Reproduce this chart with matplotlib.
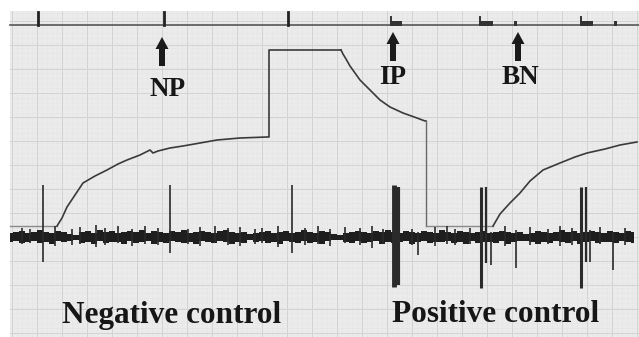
import matplotlib
matplotlib.use("Agg")
import matplotlib.pyplot as plt
import numpy as np

# ---------------- data (pixel units) ----------------
# integrator trace, negative control
neg_x = [10, 57, 62, 67, 75, 83, 95, 107, 118, 127, 140, 150, 153, 158, 170, 183, 200, 217, 240, 267, 269, 269, 341]
neg_y = [226, 226, 218, 207, 195, 183, 176, 170, 164, 160, 155, 150, 153, 151, 148, 146, 143, 140, 138, 137, 137, 50, 50]
# integrator trace, positive control (decay, reset, new rise)
pos_x = [341, 343, 346, 350, 355, 360, 365, 370, 375, 380, 390, 403, 417, 425, 426, 426, 493, 500, 510, 520, 530, 543, 560, 575, 587, 605, 620, 637]
pos_y = [50, 54, 59, 66, 73, 80, 85, 90, 95, 100, 107, 113, 118, 121, 121, 226, 226, 214, 203, 193, 181, 170, 163, 157, 153, 149, 145, 142]
RESET = 14  # index of reset in pos arrays

# EMG band envelope, sampled every 6 px from x=10
band_up = [4, 5, 6, 4, 5, 7, 5, 4, 6, 5, 3, 2, 5, 6, 4, 7, 5, 6, 4, 5,
           6, 5, 7, 4, 6, 5, 4, 6, 5, 7, 4, 5, 6, 5, 4, 6, 7, 5, 4, 5,
           3, 4, 5, 6, 4, 5, 6, 4, 5, 7, 5, 4, 6, 5, 3, 2, 4, 5, 6, 5,
           4, 6, 5, 7, 5, 4, 6, 5, 4, 6, 5, 4, 7, 5, 4, 6, 5, 4, 5, 6,
           4, 5, 6, 5, 4, 5, 3, 4, 6, 5, 4, 5, 7, 5, 6, 4, 5, 6, 5, 4,
           6, 5, 4, 6, 5]
band_dn = [5, 4, 6, 5, 4, 6, 5, 7, 4, 5, 4, 3, 6, 5, 7, 4, 6, 5, 5, 7,
           4, 6, 5, 4, 7, 5, 6, 4, 5, 6, 5, 7, 4, 5, 6, 4, 5, 7, 5, 6,
           3, 5, 4, 6, 5, 7, 4, 5, 6, 4, 6, 5, 7, 4, 3, 3, 5, 6, 4, 6,
           5, 4, 7, 5, 6, 5, 4, 7, 5, 4, 6, 5, 5, 4, 6, 5, 7, 4, 6, 5,
           5, 6, 4, 7, 5, 4, 4, 5, 7, 5, 6, 4, 5, 6, 4, 7, 5, 4, 6, 5,
           5, 6, 4, 5, 6]
band_center = 236.5

# small noise spikes (x, top, bottom)
spike_x = [22, 30, 55, 72, 80, 96, 105, 118, 132, 145, 158, 188, 200, 215, 228, 240, 255, 262, 278, 305, 318, 330, 345, 360, 372, 383, 412, 418, 435, 447, 455, 470, 505, 516, 530, 548, 560, 572, 590, 600, 613, 625]
spike_top = [228, 229, 226, 229, 227, 225, 228, 226, 229, 226, 228, 229, 227, 226, 228, 227, 229, 228, 226, 228, 226, 229, 227, 228, 226, 229, 229, 232, 227, 226, 229, 228, 226, 230, 227, 229, 226, 228, 230, 227, 232, 228]
spike_bot = [244, 243, 246, 245, 244, 247, 245, 243, 246, 244, 245, 244, 246, 243, 245, 246, 244, 243, 247, 245, 244, 246, 243, 245, 248, 244, 245, 255, 246, 244, 245, 244, 246, 268, 245, 244, 246, 245, 262, 244, 270, 245]

# bursts (x, top, bottom, width)
burst_x = [43, 170, 292, 394, 398, 481, 486, 491, 581, 586]
burst_top = [185, 185, 185, 185, 187, 187, 187, 232, 187, 187]
burst_bot = [262, 253, 253, 287, 285, 288, 263, 265, 288, 262]
burst_w = [1.2, 1.2, 1.2, 3.5, 3.0, 2.2, 1.6, 1.2, 2.2, 1.6]

# event marker line
tick_x = [38, 164, 288]
block_x0 = [390, 479, 580]
block_x1 = [402, 493, 593]
small_x = [515, 615]

# annotations
arrow_x = [162, 393, 518]
arrow_top = [37, 32, 32]
arrow_bot = [66, 61, 61]
label_txt = ["NP", "IP", "BN"]
label_x = [168, 393, 520]
label_y = [90, 78, 78]
group_txt = ["Negative control", "Positive control"]
group_x = [172, 496]
group_y = [315, 315]

# ---------------- drawing ----------------
W, H = 639, 337
fig = plt.figure(figsize=(W / 100, H / 100), dpi=100)
ax = fig.add_axes([0, 0, 1, 1])
ax.set_xlim(0, W)
ax.set_ylim(H, 0)
ax.axis("off")
fig.patch.set_facecolor("white")

# paper
ax.add_patch(plt.Rectangle((10, 11), W - 10, H - 11, facecolor="#ebebeb", edgecolor="none", zorder=0))
# fine dotted grid
for gx in np.arange(12, W, 5):
    ax.plot([gx, gx], [11, H], color="#dedede", lw=0.4, ls=(0, (1, 1.5)), zorder=0.5)
for gy in np.arange(13, H, 5):
    ax.plot([10, W], [gy, gy], color="#dedede", lw=0.4, ls=(0, (1, 1.5)), zorder=0.5)
# major grid
for gx in np.arange(12, W, 25):
    ax.plot([gx, gx], [11, H], color="#d3d3d3", lw=0.7, zorder=0.6)
for gy in np.arange(21, H, 24):
    ax.plot([10, W], [gy, gy], color="#d3d3d3", lw=0.7, zorder=0.6)

# event line
ax.plot([10, W], [25, 25], color="#555555", lw=1.2, zorder=2)
for tx in tick_x:
    ax.plot([tx, tx], [12, 25], color="#222222", lw=2.0, zorder=2)
for a, b in zip(block_x0, block_x1):
    ax.add_patch(plt.Rectangle((a, 21), b - a, 4.5, facecolor="#333333", edgecolor="none", zorder=2))
    ax.plot([a + 0.8, a + 0.8], [17, 25], color="#333333", lw=1.4, zorder=2)
for sx in small_x:
    ax.add_patch(plt.Rectangle((sx - 1.5, 21), 3, 4.5, facecolor="#333333", edgecolor="none", zorder=2))

# arrows
for x, t, b in zip(arrow_x, arrow_top, arrow_bot):
    ax.add_patch(plt.Rectangle((x - 3, t + 11), 6, b - t - 11, facecolor="#1a1a1a", edgecolor="none", zorder=3))
    ax.add_patch(plt.Polygon([[x - 6.5, t + 12], [x + 6.5, t + 12], [x, t]], closed=True,
                             facecolor="#1a1a1a", edgecolor="none", zorder=3))
for s, x, y in zip(label_txt, label_x, label_y):
    ax.text(x, y, s, ha="center", va="center", fontsize=19.5, fontweight="bold",
            family="Liberation Serif", color="#161616", zorder=4)
for s, x, y in zip(group_txt, group_x, group_y):
    ax.text(x, y, s, ha="center", va="center", fontsize=22.5, fontweight="bold",
            family="Liberation Serif", color="#161616", zorder=4)

# integrator traces
ax.plot(neg_x[:2], neg_y[:2], color="#8a8a8a", lw=1.0, zorder=3)
ax.plot(neg_x[1:], neg_y[1:], color="#3a3a3a", lw=1.2, zorder=3)
ax.plot(pos_x[:RESET + 1], pos_y[:RESET + 1], color="#3a3a3a", lw=1.2, zorder=3)
ax.plot(pos_x[RESET:RESET + 2], pos_y[RESET:RESET + 2], color="#6a6a6a", lw=1.0, zorder=3)
ax.plot(pos_x[RESET + 1:RESET + 3], pos_y[RESET + 1:RESET + 3], color="#8a8a8a", lw=1.0, zorder=3)
ax.plot(pos_x[RESET + 2:], pos_y[RESET + 2:], color="#3a3a3a", lw=1.2, zorder=3)

# EMG band
bx = np.arange(10, 10 + 6 * len(band_up), 6)
up = band_center - np.array(band_up)
dn = band_center + np.array(band_dn)
ax.fill_between(bx, up, dn, step="mid", color="#1e1e1e", lw=0, zorder=3)
ax.vlines(spike_x, spike_top, spike_bot, color="#2a2a2a", lw=1.2, zorder=3)
for x, t, b, w in zip(burst_x, burst_top, burst_bot, burst_w):
    ax.plot([x, x], [t, b], color="#2a2a2a", lw=w, zorder=3, solid_capstyle="butt")

fig.savefig("out.png", dpi=100, facecolor="white")
